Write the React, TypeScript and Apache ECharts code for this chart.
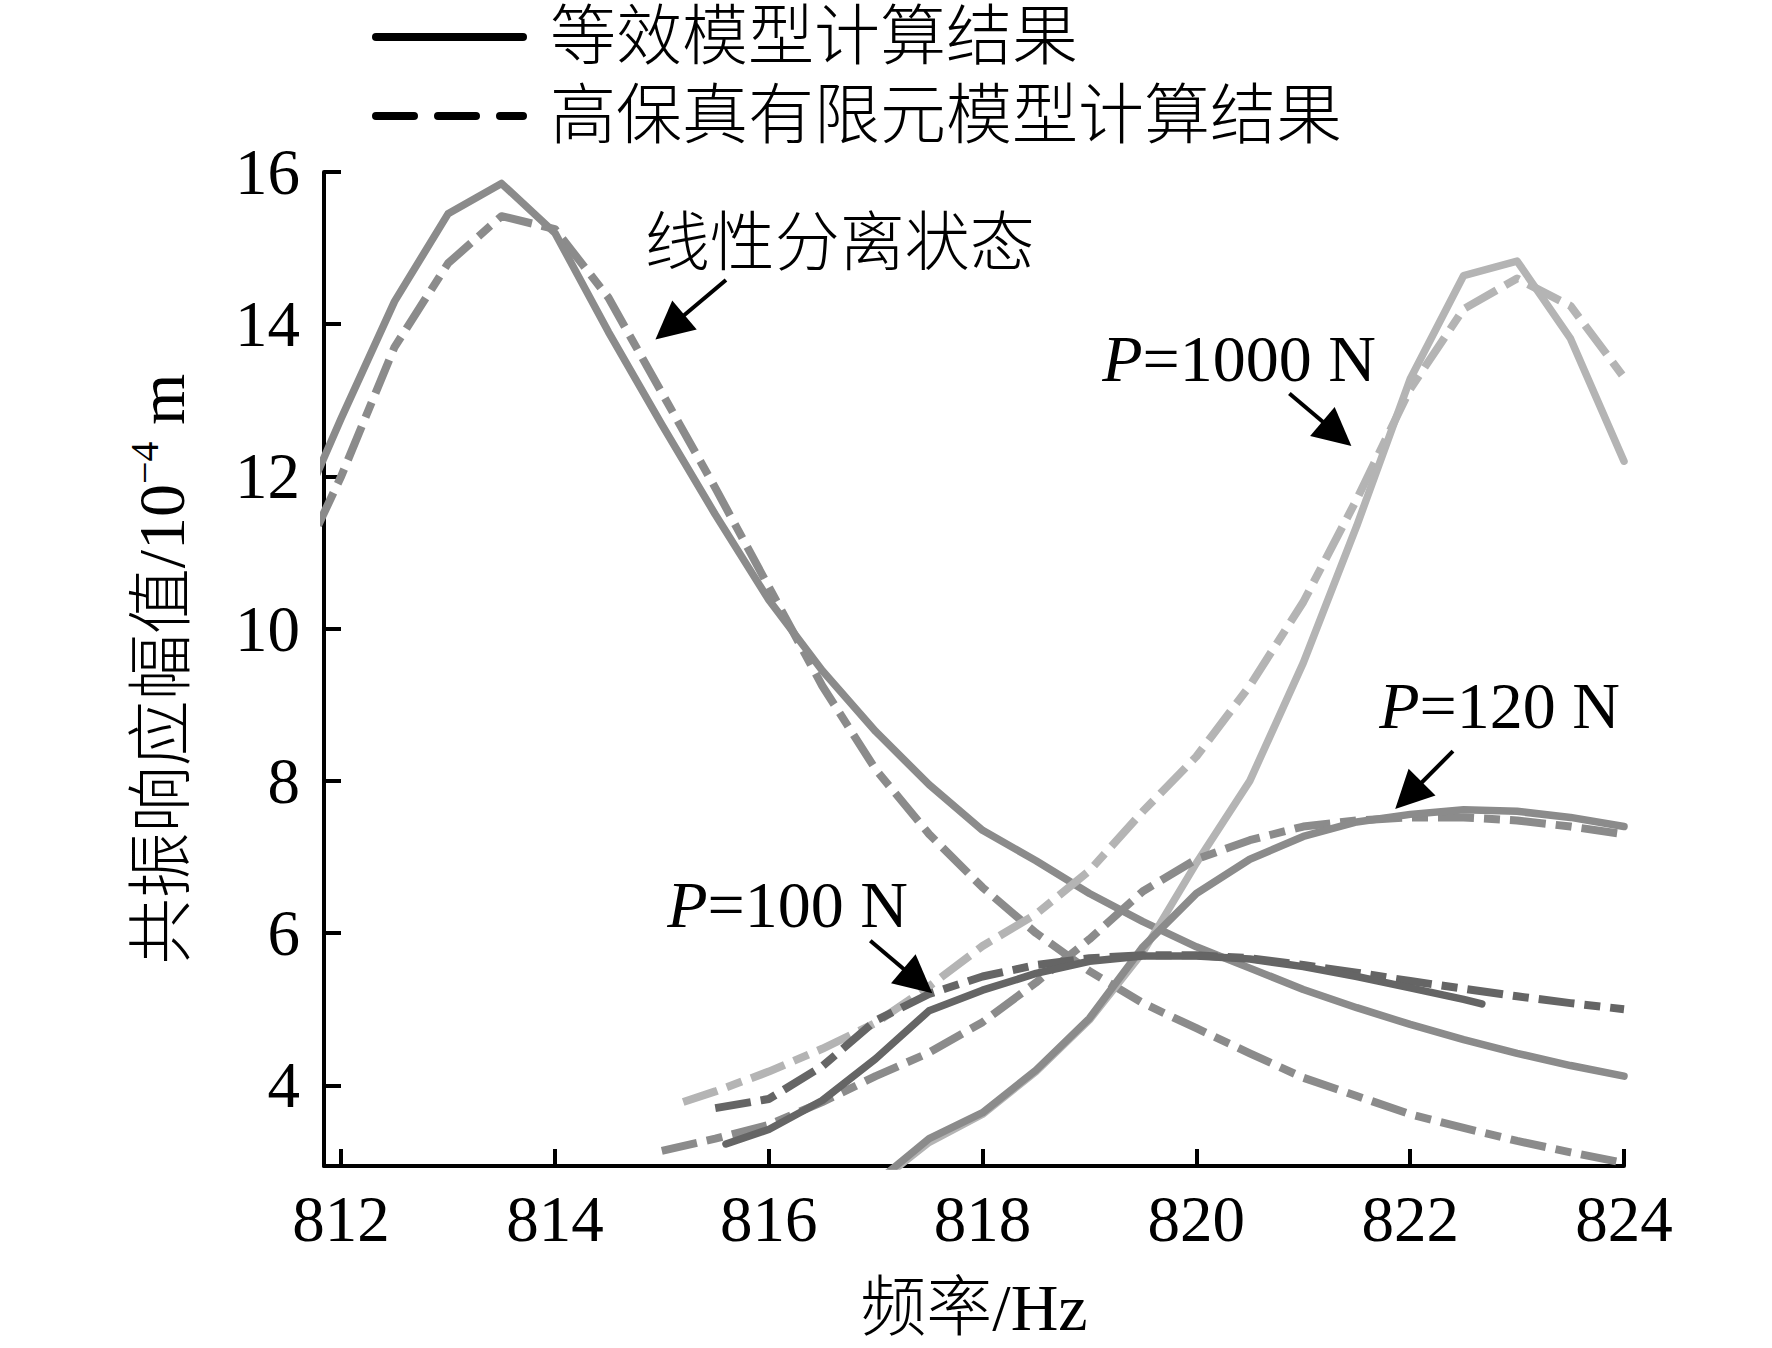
import React, { useEffect, useRef } from "react";
import * as echarts from "echarts";

// ---------- data ----------
const xTicks = [812, 814, 816, 818, 820, 822, 824];
const yTicks = [4, 6, 8, 10, 12, 14, 16];

const legendLabels = ["等效模型计算结果", "高保真有限元模型计算结果"];

// 线性分离状态
const linX = [811.5, 812, 812.5, 813, 813.5, 814, 814.5, 815, 815.5, 816, 816.5, 817, 817.5, 818, 818.5, 819, 819.5, 820, 820.5, 821, 821.5, 822, 822.5, 823, 823.5, 824];
const linEqY = [11.15, 12.76, 14.3, 15.45, 15.85, 15.2, 13.9, 12.68, 11.5, 10.38, 9.45, 8.65, 7.95, 7.35, 6.95, 6.52, 6.15, 5.82, 5.54, 5.26, 5.02, 4.8, 4.6, 4.42, 4.26, 4.12];
const linFeY = [10.5, 12.0, 13.7, 14.8, 15.42, 15.25, 14.35, 13.1, 11.85, 10.55, 9.25, 8.15, 7.3, 6.6, 6.0, 5.5, 5.08, 4.75, 4.42, 4.1, 3.86, 3.62, 3.44, 3.27, 3.12, 2.98];

// P = 1000 N
const p1000FeX = [815.2, 815.5, 816, 816.5, 817, 817.5, 818, 818.5, 819, 819.5, 820, 820.5, 821, 821.5, 822, 822.5, 823, 823.5, 824];
const p1000FeY = [3.78, 3.92, 4.18, 4.48, 4.82, 5.3, 5.83, 6.25, 6.82, 7.6, 8.32, 9.25, 10.35, 11.7, 13.15, 14.2, 14.6, 14.24, 13.3];
const p1000EqX = [817, 817.5, 818, 818.5, 819, 819.5, 820, 820.5, 821, 821.5, 822, 822.5, 823, 823.5, 824];
const p1000EqY = [2.7, 3.25, 3.62, 4.18, 4.86, 5.75, 6.92, 8.0, 9.55, 11.35, 13.28, 14.64, 14.83, 13.81, 12.2];

// P = 120 N
const p120FeX = [815, 815.5, 816, 816.5, 817, 817.5, 818, 818.5, 819, 819.5, 820, 820.5, 821, 821.5, 822, 822.5, 823, 823.5, 824];
const p120FeY = [3.14, 3.3, 3.48, 3.78, 4.12, 4.43, 4.83, 5.35, 5.92, 6.55, 6.97, 7.22, 7.4, 7.48, 7.52, 7.52, 7.48, 7.4, 7.3];
const p120EqX = [817, 817.5, 818, 818.5, 819, 819.5, 820, 820.5, 821, 821.5, 822, 822.5, 823, 823.5, 824];
const p120EqY = [2.72, 3.3, 3.64, 4.2, 4.88, 5.82, 6.52, 6.97, 7.27, 7.46, 7.56, 7.62, 7.6, 7.52, 7.4];

// P = 100 N
const p100FeX = [815.5, 816, 816.5, 817, 817.5, 818, 818.5, 819, 819.5, 820, 820.5, 821, 821.5, 822, 822.5, 823, 823.5, 824];
const p100FeY = [3.7, 3.82, 4.25, 4.85, 5.2, 5.43, 5.58, 5.67, 5.71, 5.71, 5.67, 5.58, 5.48, 5.37, 5.27, 5.17, 5.08, 5.0];
const p100EqX = [815.6, 816, 816.5, 817, 817.5, 818, 818.5, 819, 819.5, 820, 820.5, 821, 821.5, 822, 822.5, 822.67];
const p100EqY = [3.23, 3.42, 3.8, 4.35, 4.98, 5.25, 5.47, 5.63, 5.7, 5.7, 5.66, 5.56, 5.43, 5.28, 5.13, 5.07];

// annotations (data coordinates)
const annotations = [
  { label: "线性分离状态", italicP: false, text: [814.84, 15.07], tail: [815.6, 14.58], tip: [814.94, 13.8] },
  { label: "=1000 N", italicP: true, text: [819.12, 13.55], tail: [820.87, 13.09], tip: [821.45, 12.4] },
  { label: "=120 N", italicP: true, text: [821.71, 8.99], tail: [822.4, 8.39], tip: [821.86, 7.63] },
  { label: "=100 N", italicP: true, text: [815.05, 6.38], tail: [816.95, 5.9], tip: [817.53, 5.21] },
];

const pairs = (xs: number[], ys: number[]) => xs.map((x, i) => [x, ys[i]]);

const FONT = "'Liberation Serif', 'Times New Roman', 'Noto Sans CJK SC', serif";
const LIGHT = "#b4b4b4";
const MID = "#8b8b8b";
const DARK = "#656565";
const CJK_WEIGHT = 300;

export default function App() {
  const ref = useRef<HTMLDivElement>(null);

  useEffect(() => {
    if (!ref.current) return;
    const chart = echarts.init(ref.current, null, { renderer: "svg" });

    const solid = (name: string, data: number[][], color: string, z: number) => ({
      type: "line",
      name,
      data,
      symbol: "none",
      showSymbol: false,
      smooth: false,
      z,
      lineStyle: { color, width: 7.5, cap: "round", join: "round", type: "solid" },
    });
    const dashed = (name: string, data: number[][], color: string, z: number) => ({
      type: "line",
      name,
      data,
      symbol: "none",
      showSymbol: false,
      smooth: false,
      z,
      lineStyle: { color, width: 8, cap: "butt", join: "round", type: [36, 10, 16, 10] },
    });

    const option: any = {
      animation: false,
      backgroundColor: "#ffffff",
      grid: { left: 324, top: 172, right: 148, bottom: 182, containLabel: false },
      xAxis: {
        type: "value",
        min: 811.84,
        max: 824,
        name: "频率/Hz",
        nameLocation: "middle",
        nameGap: 108,
        nameTextStyle: { fontSize: 66, fontFamily: FONT, fontWeight: CJK_WEIGHT, color: "#000" },
        axisLine: { show: true, onZero: false, lineStyle: { color: "#000", width: 4 } },
        axisTick: { show: true, inside: true, length: 17, customValues: xTicks, lineStyle: { color: "#000", width: 4 } },
        axisLabel: { show: true, customValues: xTicks, fontSize: 65, fontFamily: FONT, color: "#000", margin: 20 },
        splitLine: { show: false },
      },
      yAxis: {
        type: "value",
        min: 2.94,
        max: 16,
        name: "{a|共振响应幅值/10}{s|−4}{a| m}",
        nameLocation: "middle",
        nameRotate: 90,
        nameGap: 130,
        nameTextStyle: {
          fontSize: 66,
          fontFamily: FONT,
          color: "#000",
          rich: {
            a: { fontSize: 66, fontFamily: FONT, fontWeight: CJK_WEIGHT, color: "#000", lineHeight: 72, verticalAlign: "bottom" },
            s: { fontSize: 40, fontFamily: FONT, color: "#000", lineHeight: 72, verticalAlign: "top", padding: [2, 0, 0, 0] },
          },
        },
        axisLine: { show: true, onZero: false, lineStyle: { color: "#000", width: 4 } },
        axisTick: { show: true, inside: true, length: 17, customValues: yTicks, lineStyle: { color: "#000", width: 4 } },
        axisLabel: { show: true, customValues: yTicks, fontSize: 65, fontFamily: FONT, color: "#000", margin: 24 },
        splitLine: { show: false },
      },
      series: [
        dashed("线性分离状态-有限元", pairs(linX, linFeY), MID, 2),
        solid("线性分离状态-等效", pairs(linX, linEqY), MID, 3),
        dashed("P=1000 N-有限元", pairs(p1000FeX, p1000FeY), LIGHT, 4),
        solid("P=1000 N-等效", pairs(p1000EqX, p1000EqY), LIGHT, 5),
        dashed("P=120 N-有限元", pairs(p120FeX, p120FeY), MID, 6),
        solid("P=120 N-等效", pairs(p120EqX, p120EqY), MID, 7),
        dashed("P=100 N-有限元", pairs(p100FeX, p100FeY), DARK, 8),
        solid("P=100 N-等效", pairs(p100EqX, p100EqY), DARK, 9),
      ],
    };
    chart.setOption(option);

    const toPx = (p: number[]) => chart.convertToPixel({ gridIndex: 0 }, p) as number[];
    const graphics: any[] = [];

    // legend
    graphics.push({
      type: "line",
      shape: { x1: 376, y1: 37, x2: 523, y2: 37 },
      style: { stroke: "#000", lineWidth: 8, lineCap: "round" },
      z: 100,
    });
    graphics.push({
      type: "text",
      x: 550,
      y: 36,
      style: { text: legendLabels[0], fontSize: 66, fontFamily: FONT, fontWeight: CJK_WEIGHT, fill: "#000", align: "left", verticalAlign: "middle" },
      z: 100,
    });
    graphics.push({
      type: "line",
      shape: { x1: 376, y1: 116, x2: 523, y2: 116 },
      style: { stroke: "#000", lineWidth: 8, lineCap: "round", lineDash: [38, 24] },
      z: 100,
    });
    graphics.push({
      type: "text",
      x: 550,
      y: 115,
      style: { text: legendLabels[1], fontSize: 66, fontFamily: FONT, fontWeight: CJK_WEIGHT, fill: "#000", align: "left", verticalAlign: "middle" },
      z: 100,
    });

    // annotations
    annotations.forEach((a) => {
      const tp = toPx(a.text);
      if (a.italicP) {
        graphics.push({
          type: "text",
          x: tp[0],
          y: tp[1],
          style: {
            text: "{i|P}{n|" + a.label + "}",
            align: "left",
            verticalAlign: "middle",
            rich: {
              i: { fontSize: 66, fontFamily: FONT, fontStyle: "italic", fill: "#000" },
              n: { fontSize: 66, fontFamily: FONT, fill: "#000" },
            },
          },
          z: 100,
        });
      } else {
        graphics.push({
          type: "text",
          x: tp[0],
          y: tp[1],
          style: { text: a.label, fontSize: 65, fontFamily: FONT, fontWeight: CJK_WEIGHT, fill: "#000", align: "left", verticalAlign: "middle" },
          z: 100,
        });
      }
      const t0 = toPx(a.tail);
      const t1 = toPx(a.tip);
      const dx = t1[0] - t0[0];
      const dy = t1[1] - t0[1];
      const len = Math.sqrt(dx * dx + dy * dy);
      const ux = dx / len;
      const uy = dy / len;
      const headL = 38;
      const headW = 19;
      const bx = t1[0] - ux * headL;
      const by = t1[1] - uy * headL;
      graphics.push({
        type: "line",
        shape: { x1: t0[0], y1: t0[1], x2: bx + ux * 4, y2: by + uy * 4 },
        style: { stroke: "#000", lineWidth: 4 },
        z: 100,
      });
      graphics.push({
        type: "polygon",
        shape: {
          points: [
            [t1[0], t1[1]],
            [bx - uy * headW, by + ux * headW],
            [bx + uy * headW, by - ux * headW],
          ],
        },
        style: { fill: "#000" },
        z: 100,
      });
    });

    chart.setOption({ graphic: graphics });

    return () => {
      chart.dispose();
    };
  }, []);

  return (
    <div
      ref={ref}
      style={{ position: "absolute", left: 0, top: 0, width: 1772, height: 1348, background: "#ffffff" }}
    />
  );
}
